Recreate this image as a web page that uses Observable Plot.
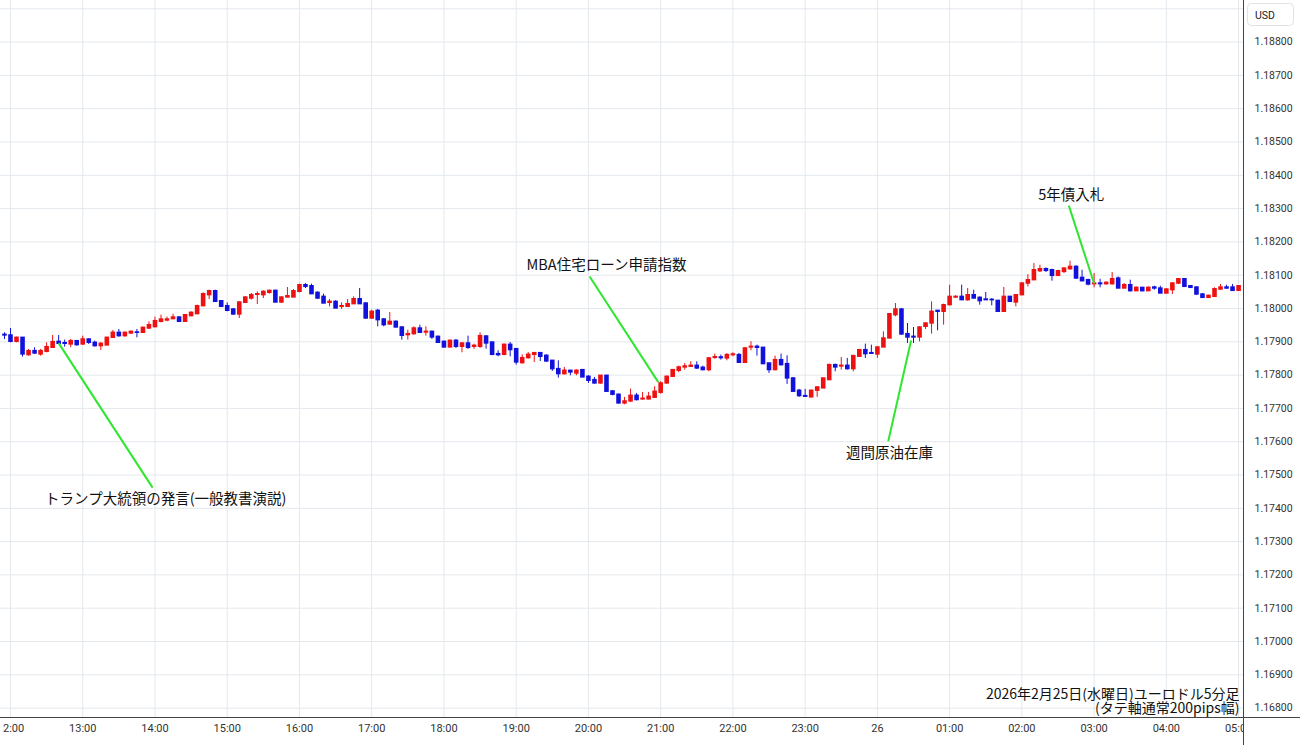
<!DOCTYPE html>
<html><head><meta charset="utf-8">
<script src="https://cdn.jsdelivr.net/npm/d3@7"></script>
<script src="https://cdn.jsdelivr.net/npm/@observablehq/plot@0.6"></script>
<style>
html,body{margin:0;padding:0;background:#fff;overflow:hidden}
#chart{position:relative;width:1300px;height:745px}
</style></head><body><div id="chart"></div>
<script>
// 5-minute candles, 2026-02-25 11:55 -> 2026-02-26 05:00 (EUR/USD)
const times = [
"11:55",
"12:00","12:05","12:10","12:15","12:20","12:25","12:30","12:35","12:40","12:45","12:50","12:55",
"13:00","13:05","13:10","13:15","13:20","13:25","13:30","13:35","13:40","13:45","13:50","13:55",
"14:00","14:05","14:10","14:15","14:20","14:25","14:30","14:35","14:40","14:45","14:50","14:55",
"15:00","15:05","15:10","15:15","15:20","15:25","15:30","15:35","15:40","15:45","15:50","15:55",
"16:00","16:05","16:10","16:15","16:20","16:25","16:30","16:35","16:40","16:45","16:50","16:55",
"17:00","17:05","17:10","17:15","17:20","17:25","17:30","17:35","17:40","17:45","17:50","17:55",
"18:00","18:05","18:10","18:15","18:20","18:25","18:30","18:35","18:40","18:45","18:50","18:55",
"19:00","19:05","19:10","19:15","19:20","19:25","19:30","19:35","19:40","19:45","19:50","19:55",
"20:00","20:05","20:10","20:15","20:20","20:25","20:30","20:35","20:40","20:45","20:50","20:55",
"21:00","21:05","21:10","21:15","21:20","21:25","21:30","21:35","21:40","21:45","21:50","21:55",
"22:00","22:05","22:10","22:15","22:20","22:25","22:30","22:35","22:40","22:45","22:50","22:55",
"23:00","23:05","23:10","23:15","23:20","23:25","23:30","23:35","23:40","23:45","23:50","23:55",
"00:00","00:05","00:10","00:15","00:20","00:25","00:30","00:35","00:40","00:45","00:50","00:55",
"01:00","01:05","01:10","01:15","01:20","01:25","01:30","01:35","01:40","01:45","01:50","01:55",
"02:00","02:05","02:10","02:15","02:20","02:25","02:30","02:35","02:40","02:45","02:50","02:55",
"03:00","03:05","03:10","03:15","03:20","03:25","03:30","03:35","03:40","03:45","03:50","03:55",
"04:00","04:05","04:10","04:15","04:20","04:25","04:30","04:35","04:40","04:45","04:50","04:55",
"05:00"];

const open = [
1.17921,
1.17919,1.17900,1.17912,1.17860,1.17872,1.17862,1.17870,1.17882,1.17900,1.17896,1.17892,1.17902,
1.17892,1.17907,1.17897,1.17887,1.17889,1.17912,1.17927,1.17917,1.17925,1.17928,1.17927,1.17940,
1.17944,1.17960,1.17964,1.17968,1.17973,1.17960,1.17977,1.17983,1.18007,1.18040,1.18052,1.18022,
1.18007,1.17997,1.17982,1.18017,1.18030,1.18041,1.18040,1.18047,1.18053,1.18018,1.18033,1.18033,
1.18050,1.18070,1.18067,1.18047,1.18035,1.18017,1.18020,1.18005,1.18005,1.18013,1.18028,1.18015,
1.17970,1.17993,1.17967,1.17952,1.17960,1.17943,1.17920,1.17923,1.17940,1.17928,1.17930,1.17915,
1.17900,1.17883,1.17903,1.17885,1.17895,1.17885,1.17885,1.17916,1.17898,1.17863,1.17861,1.17891,
1.17878,1.17836,1.17851,1.17861,1.17866,1.17858,1.17843,1.17818,1.17803,1.17813,1.17805,1.17815,
1.17795,1.17785,1.17775,1.17798,1.17751,1.17741,1.17715,1.17721,1.17738,1.17727,1.17727,1.17732,
1.17747,1.17775,1.17795,1.17813,1.17823,1.17825,1.17828,1.17822,1.17815,1.17852,1.17853,1.17850,
1.17860,1.17860,1.17837,1.17883,1.17885,1.17882,1.17835,1.17815,1.17845,1.17833,1.17790,1.17753,
1.17737,1.17733,1.17753,1.17760,1.17785,1.17830,1.17826,1.17828,1.17818,1.17855,1.17875,1.17866,
1.17862,1.17883,1.17910,1.17980,1.17997,1.17923,1.17915,1.17913,1.17945,1.17955,1.17993,1.17990,
1.18010,1.18033,1.18035,1.18025,1.18040,1.18032,1.18027,1.18026,1.18023,1.17990,1.18035,1.18018,
1.18040,1.18075,1.18085,1.18112,1.18118,1.18115,1.18098,1.18110,1.18118,1.18125,1.18092,1.18085,
1.18073,1.18075,1.18073,1.18073,1.18090,1.18060,1.18070,1.18052,1.18062,1.18052,1.18063,1.18060,
1.18045,1.18055,1.18075,1.18088,1.18067,1.18063,1.18042,1.18032,1.18035,1.18057,1.18063,1.18063,
1.18053];

const high = [
1.17927,
1.17940,1.17914,1.17912,1.17877,1.17882,1.17877,1.17897,1.17919,1.17919,1.17905,1.17907,1.17904,
1.17917,1.17909,1.17902,1.17897,1.17914,1.17934,1.17937,1.17929,1.17932,1.17937,1.17944,1.17960,
1.17974,1.17980,1.17974,1.17983,1.17975,1.17982,1.17990,1.18010,1.18047,1.18055,1.18055,1.18022,
1.18017,1.18000,1.18020,1.18035,1.18045,1.18050,1.18053,1.18055,1.18055,1.18035,1.18063,1.18057,
1.18073,1.18075,1.18073,1.18050,1.18043,1.18027,1.18023,1.18017,1.18027,1.18035,1.18060,1.18017,
1.17995,1.17997,1.17970,1.17988,1.17963,1.17945,1.17935,1.17945,1.17950,1.17945,1.17932,1.17917,
1.17902,1.17905,1.17907,1.17897,1.17917,1.17893,1.17927,1.17918,1.17898,1.17873,1.17893,1.17898,
1.17878,1.17861,1.17868,1.17866,1.17868,1.17861,1.17843,1.17843,1.17823,1.17813,1.17816,1.17815,
1.17798,1.17793,1.17798,1.17798,1.17753,1.17743,1.17733,1.17758,1.17745,1.17748,1.17748,1.17765,
1.17780,1.17797,1.17817,1.17827,1.17835,1.17840,1.17840,1.17827,1.17853,1.17863,1.17860,1.17865,
1.17867,1.17865,1.17883,1.17900,1.17890,1.17882,1.17835,1.17857,1.17863,1.17858,1.17793,1.17757,
1.17757,1.17755,1.17765,1.17790,1.17833,1.17833,1.17853,1.17850,1.17860,1.17877,1.17893,1.17890,
1.17885,1.17930,1.17983,1.18015,1.18000,1.17955,1.17943,1.17945,1.17957,1.18020,1.17993,1.18013,
1.18070,1.18038,1.18070,1.18060,1.18055,1.18035,1.18048,1.18030,1.18023,1.18063,1.18035,1.18042,
1.18078,1.18102,1.18135,1.18130,1.18122,1.18118,1.18115,1.18122,1.18142,1.18128,1.18115,1.18088,
1.18105,1.18088,1.18080,1.18108,1.18095,1.18075,1.18085,1.18065,1.18063,1.18065,1.18067,1.18067,
1.18060,1.18078,1.18090,1.18090,1.18067,1.18065,1.18045,1.18040,1.18062,1.18072,1.18070,1.18072,
1.18067];

const low = [
1.17907,
1.17897,1.17897,1.17854,1.17857,1.17862,1.17857,1.17867,1.17882,1.17892,1.17884,1.17882,1.17887,
1.17890,1.17892,1.17884,1.17874,1.17889,1.17910,1.17914,1.17914,1.17922,1.17912,1.17927,1.17937,
1.17942,1.17957,1.17960,1.17967,1.17960,1.17960,1.17975,1.17983,1.18005,1.18027,1.18020,1.18003,
1.17990,1.17980,1.17970,1.18015,1.18025,1.18012,1.18030,1.18043,1.18017,1.18015,1.18033,1.18033,
1.18047,1.18060,1.18043,1.18027,1.18015,1.18005,1.18000,1.17997,1.18003,1.18013,1.18013,1.17968,
1.17967,1.17945,1.17945,1.17950,1.17942,1.17905,1.17905,1.17920,1.17925,1.17917,1.17907,1.17895,
1.17882,1.17882,1.17880,1.17867,1.17877,1.17877,1.17880,1.17878,1.17858,1.17855,1.17858,1.17855,
1.17830,1.17833,1.17848,1.17838,1.17841,1.17838,1.17811,1.17791,1.17800,1.17798,1.17798,1.17793,
1.17775,1.17773,1.17773,1.17748,1.17738,1.17713,1.17711,1.17718,1.17723,1.17725,1.17726,1.17730,
1.17743,1.17773,1.17793,1.17807,1.17815,1.17823,1.17817,1.17813,1.17810,1.17847,1.17845,1.17843,
1.17855,1.17835,1.17835,1.17873,1.17857,1.17833,1.17805,1.17813,1.17827,1.17772,1.17750,1.17733,
1.17733,1.17733,1.17733,1.17760,1.17785,1.17810,1.17815,1.17815,1.17810,1.17855,1.17850,1.17863,
1.17850,1.17883,1.17910,1.17975,1.17920,1.17895,1.17895,1.17900,1.17937,1.17923,1.17933,1.17950,
1.18008,1.18030,1.18025,1.18022,1.18028,1.18010,1.18025,1.18008,1.17988,1.17990,1.18018,1.18005,
1.18038,1.18065,1.18085,1.18108,1.18108,1.18082,1.18098,1.18105,1.18115,1.18088,1.18080,1.18068,
1.18062,1.18062,1.18070,1.18070,1.18060,1.18060,1.18050,1.18052,1.18050,1.18052,1.18055,1.18045,
1.18045,1.18042,1.18072,1.18065,1.18062,1.18040,1.18030,1.18030,1.18033,1.18055,1.18058,1.18052,
1.18053];

const close = [
1.17919,
1.17900,1.17912,1.17862,1.17872,1.17865,1.17872,1.17884,1.17899,1.17894,1.17894,1.17902,1.17890,
1.17907,1.17897,1.17887,1.17894,1.17912,1.17927,1.17917,1.17927,1.17930,1.17927,1.17942,1.17950,
1.17962,1.17967,1.17967,1.17973,1.17960,1.17980,1.17987,1.18007,1.18043,1.18052,1.18020,1.18005,
1.17993,1.17982,1.18018,1.18033,1.18040,1.18043,1.18050,1.18053,1.18018,1.18033,1.18037,1.18052,
1.18070,1.18065,1.18043,1.18030,1.18015,1.18020,1.18000,1.18007,1.18013,1.18028,1.18013,1.17970,
1.17990,1.17965,1.17950,1.17960,1.17943,1.17918,1.17923,1.17940,1.17927,1.17930,1.17913,1.17897,
1.17883,1.17903,1.17885,1.17895,1.17882,1.17888,1.17917,1.17895,1.17861,1.17860,1.17891,1.17875,
1.17838,1.17851,1.17861,1.17866,1.17855,1.17841,1.17818,1.17803,1.17813,1.17808,1.17813,1.17793,
1.17783,1.17775,1.17798,1.17750,1.17741,1.17715,1.17721,1.17738,1.17725,1.17729,1.17735,1.17750,
1.17775,1.17795,1.17815,1.17823,1.17826,1.17828,1.17820,1.17815,1.17850,1.17854,1.17851,1.17860,
1.17862,1.17837,1.17880,1.17885,1.17882,1.17833,1.17815,1.17845,1.17830,1.17790,1.17750,1.17737,
1.17735,1.17753,1.17763,1.17790,1.17830,1.17823,1.17828,1.17818,1.17857,1.17875,1.17863,1.17864,
1.17883,1.17910,1.17983,1.17997,1.17922,1.17913,1.17913,1.17943,1.17955,1.17990,1.17990,1.18010,
1.18035,1.18035,1.18025,1.18040,1.18030,1.18022,1.18025,1.18025,1.17990,1.18035,1.18020,1.18040,
1.18075,1.18085,1.18115,1.18118,1.18113,1.18098,1.18112,1.18120,1.18125,1.18090,1.18082,1.18072,
1.18075,1.18073,1.18077,1.18088,1.18060,1.18070,1.18052,1.18062,1.18052,1.18062,1.18060,1.18045,
1.18057,1.18075,1.18088,1.18065,1.18062,1.18042,1.18032,1.18038,1.18058,1.18063,1.18060,1.18053,
1.18067];

// axis ticks
const xTickTimes  = ["12:00","13:00","14:00","15:00","16:00","17:00","18:00","19:00","20:00","21:00","22:00","23:00","00:00","01:00","02:00","03:00","04:00","05:00"];
const xTickLabels = ["12:00","13:00","14:00","15:00","16:00","17:00","18:00","19:00","20:00","21:00","22:00","23:00","26","01:00","02:00","03:00","04:00","05:00"];
const yGridTicks  = [1.168,1.169,1.170,1.171,1.172,1.173,1.174,1.175,1.176,1.177,1.178,1.179,1.180,1.181,1.182,1.183,1.184,1.185,1.186,1.187,1.188,1.189];
const yLabelTicks = [1.168,1.169,1.170,1.171,1.172,1.173,1.174,1.175,1.176,1.177,1.178,1.179,1.180,1.181,1.182,1.183,1.184,1.185,1.186,1.187,1.188];

// annotations
const annoLabels     = ["トランプ大統領の発言(一般教書演説)","MBA住宅ローン申請指数","週間原油在庫","5年債入札"];
const annoTextTime   = ["14:09","20:15","00:10","02:41"];
const annoTextPrice  = [1.17426,1.18129,1.17565,1.18340];
const annoLineTime   = ["13:58","20:01","00:09","02:39"];
const annoLinePrice  = [1.17462,1.18096,1.17601,1.18309];
const annoTipTime    = ["12:40","20:58","00:28","03:00"];
const annoTipPrice   = [1.17896,1.17779,1.17904,1.18075];

const captionLines = ["2026年2月25日(水曜日)ユーロドル5分足","(タテ軸通常200pips幅)"];

const RED = "#ee1111", BLUE = "#1111dd", GRID = "#e3e8ed", GREEN = "#2ee62e";

function parseT(s) {
  const [h, m] = s.split(":").map(Number);
  return new Date(Date.UTC(2026, 1, h < 11 ? 26 : 25, h, m));
}

const candles = times.map((t, i) => ({
  t: parseT(t), o: open[i], h: high[i], l: low[i], c: close[i],
  up: close[i] >= open[i],
  top: Math.max(open[i], close[i]), bot: Math.min(open[i], close[i])
}));
const ups = candles.filter(d => d.up), downs = candles.filter(d => !d.up);

const annos = annoLabels.map((label, i) => ({
  label,
  tx: parseT(annoTextTime[i]), ty: annoTextPrice[i],
  lx: parseT(annoLineTime[i]), ly: annoLinePrice[i],
  px: parseT(annoTipTime[i]), py: annoTipPrice[i]
}));

const xTicks = xTickTimes.map(parseT);
const xLabelMap = new Map(xTicks.map((d, i) => [+d, xTickLabels[i]]));

const plot = Plot.plot({
  width: 1300, height: 745,
  marginLeft: 0, marginRight: 57, marginTop: 0, marginBottom: 28,
  style: {fontFamily: "Roboto, 'Noto Sans', sans-serif", background: "white"},
  x: {type: "utc", domain: [new Date(Date.UTC(2026,1,25,11,51,42)), new Date(Date.UTC(2026,1,26,5,4,5))]},
  y: {domain: [1.167718, 1.189249]},
  marks: [
    Plot.gridY(yGridTicks, {stroke: GRID, strokeOpacity: 1}),
    Plot.gridX(xTicks, {stroke: GRID, strokeOpacity: 1}),
    Plot.ruleX(ups,   {x: "t", y1: "h", y2: "l", stroke: RED,  strokeWidth: 1}),
    Plot.ruleX(downs, {x: "t", y1: "h", y2: "l", stroke: BLUE, strokeWidth: 1}),
    Plot.ruleX(ups,   {x: "t", y1: "top", y2: "bot", stroke: RED,  strokeWidth: 4.6, insetTop: -0.7, insetBottom: -0.7}),
    Plot.ruleX(downs, {x: "t", y1: "top", y2: "bot", stroke: BLUE, strokeWidth: 4.6, insetTop: -0.7, insetBottom: -0.7}),
    Plot.link(annos, {x1: "lx", y1: "ly", x2: "px", y2: "py", stroke: GREEN, strokeWidth: 2}),
    Plot.text(annos, {x: "tx", y: "ty", text: "label", fontSize: 14.5, fill: "#111",
      fontFamily: "'Noto Sans CJK JP', sans-serif"}),
    Plot.text([captionLines.join("\n")], {frameAnchor: "bottom-right", text: d => d, textAnchor: "end",
      lineAnchor: "bottom", lineHeight: 1.0, fontSize: 14, dx: -4, dy: -5, fill: "#111",
      fontFamily: "'Noto Sans CJK JP', sans-serif"}),
    Plot.axisY(yLabelTicks, {anchor: "right", tickSize: 0, tickPadding: 11, label: null,
      tickFormat: d => d.toFixed(5), fontSize: 10.5, fill: "#333"}),
    Plot.axisX(xTicks, {anchor: "bottom", tickSize: 0, tickPadding: 7, label: null,
      tickFormat: d => xLabelMap.get(+d), fontSize: 11, fill: "#333"}),
    Plot.frame({anchor: "right", stroke: "#444", insetBottom: -28}),
    Plot.frame({anchor: "bottom", stroke: "#444", insetRight: -57})
  ]
});

document.getElementById("chart").appendChild(plot);

// clip x-axis labels to the plot frame (12:00 and 05:00 are cut at the edges)
const svg = d3.select(plot);
const defs = svg.insert("defs", ":first-child");
defs.append("clipPath").attr("id", "xlabclip").append("rect")
  .attr("x", 2).attr("y", 0).attr("width", 1241).attr("height", 745);
svg.selectAll('g[aria-label="x-axis tick label"]').attr("clip-path", "url(#xlabclip)");

// currency badge
const badge = svg.append("g");
badge.append("rect").attr("x", 1247.5).attr("y", 3.5).attr("width", 46).attr("height", 22)
  .attr("rx", 4).attr("fill", "white").attr("stroke", "#e2e2e2");
badge.append("text").attr("x", 1265).attr("y", 15).attr("dy", "0.35em")
  .attr("text-anchor", "middle").attr("font-size", 10.5).attr("fill", "#222").text("USD");
</script></body></html>
